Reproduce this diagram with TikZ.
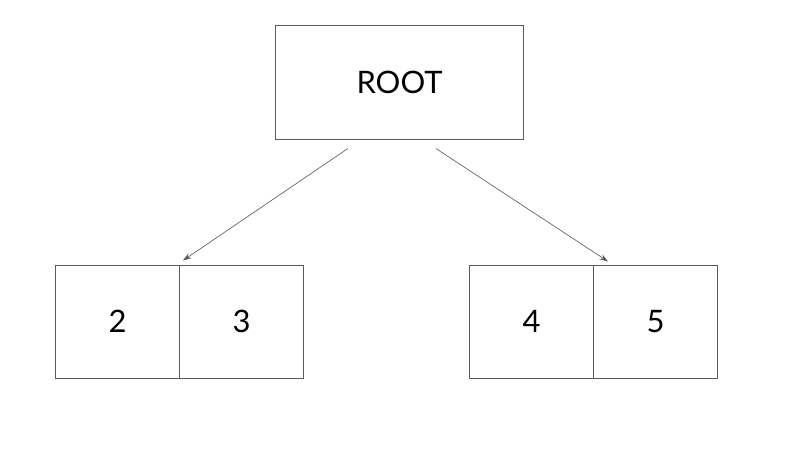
\documentclass[tikz,border=0pt]{standalone}
\usepackage{fontspec}
\setmainfont{Lato}
\usepackage{tikz}
\usetikzlibrary{arrows.meta}
\definecolor{linegray}{RGB}{90,90,90}
\tikzset{
	cell/.style={rectangle,draw=linegray,line width=0.7pt,minimum width=3.1cm,minimum height=2.825cm,inner sep=0pt,font=\fontsize{22}{26}\selectfont},
	edge/.style={-{Stealth[length=6pt,width=4pt]},draw=linegray,fill=linegray,line width=0.4pt}
}
\begin{document}
\begin{tikzpicture}[x=0.025cm,y=-0.025cm]
	\useasboundingbox (0,0) rectangle (800,450);
	\node[cell,minimum width=6.175cm] (root) at (399.5, 82.5) {ROOT};
	\node[cell] (c2) at (117.5, 321.5) {2};
	\node[cell] (c3) at (241.5, 321.5) {3};
	\node[cell] (c4) at (531.5, 321.5) {4};
	\node[cell] (c5) at (655.5, 321.5) {5};
	
	\draw[edge] ([xshift=-1.29cm,yshift=-0.225cm]root.south) -- ([xshift=0.075cm,yshift=0.1cm]c2.north east);
	\draw[edge] ([xshift=0.91cm,yshift=-0.225cm]root.south) -- ([xshift=0.35cm,yshift=0.075cm]c4.north east);
\end{tikzpicture}
\end{document}
